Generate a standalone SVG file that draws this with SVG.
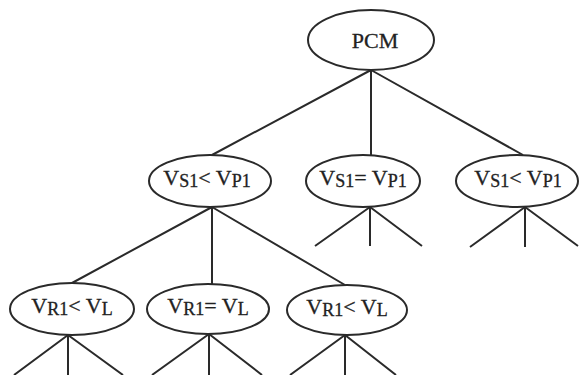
<svg xmlns="http://www.w3.org/2000/svg" width="579" height="375" viewBox="0 0 579 375">
<style>
.n{fill:#fff;stroke:#2a2a2a;stroke-width:2}
.e{stroke:#2a2a2a;stroke-width:2;fill:none}
text{font-family:"Liberation Serif","Times New Roman",serif;fill:#222;stroke:#222;stroke-width:0.3;text-anchor:middle;font-size:22px}
.s{font-size:18px}
</style>
<rect width="579" height="375" fill="#fff"/>
<g id="edges">
<path class="e" d="M371,70L212,155M371,70L371,155M371,70L523,155"/>
<path class="e" d="M212,207L72,283M212,207L212,284M212,207L345,285"/>
<path class="e" d="M370,207L315,246M370,207L370,246M370,207L422,246"/>
<path class="e" d="M525,207L470,247M525,207L525,247M525,207L578,246"/>
<path class="e" d="M68,335L14,375M68,335L68,375M68,335L123,375"/>
<path class="e" d="M209,334L152,375M209,334L209,375M209,334L262,375"/>
<path class="e" d="M345,335L290,375M345,335L345,375M345,335L396,375"/>
</g>
<g id="pcm"><ellipse class="n" cx="371" cy="40" rx="63" ry="30"/><text x="375" y="48">PCM</text></g>
<g id="vs1a"><ellipse class="n" cx="210" cy="181" rx="61" ry="26"/><text x="207" y="185">V<tspan class="s" dy="2">S1</tspan><tspan dy="-2">&lt; V</tspan><tspan class="s" dy="2">P1</tspan></text></g>
<g id="vs1b"><ellipse class="n" cx="363" cy="181" rx="57" ry="26"/><text x="363" y="185">V<tspan class="s" dy="2">S1</tspan><tspan dy="-2">= V</tspan><tspan class="s" dy="2">P1</tspan></text></g>
<g id="vs1c"><ellipse class="n" cx="517" cy="181" rx="61" ry="26"/><text x="518" y="185">V<tspan class="s" dy="2">S1</tspan><tspan dy="-2">&lt; V</tspan><tspan class="s" dy="2">P1</tspan></text></g>
<g id="vr1a"><ellipse class="n" cx="72" cy="309" rx="62" ry="26"/><text x="72" y="313">V<tspan class="s" dy="2">R1</tspan><tspan dy="-2">&lt; V</tspan><tspan class="s" dy="2">L</tspan></text></g>
<g id="vr1b"><ellipse class="n" cx="208" cy="309" rx="61" ry="25"/><text x="208" y="313">V<tspan class="s" dy="2">R1</tspan><tspan dy="-2">= V</tspan><tspan class="s" dy="2">L</tspan></text></g>
<g id="vr1c"><ellipse class="n" cx="347" cy="310" rx="60" ry="25"/><text x="347" y="314">V<tspan class="s" dy="2">R1</tspan><tspan dy="-2">&lt; V</tspan><tspan class="s" dy="2">L</tspan></text></g>
</svg>
